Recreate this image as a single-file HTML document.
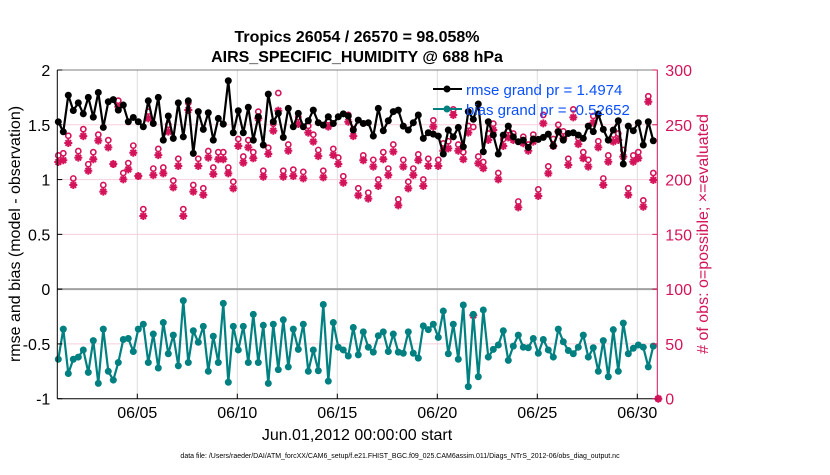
<!DOCTYPE html>
<html><head><meta charset="utf-8"><style>
body{margin:0;background:#fff;}
svg text{font-family:"Liberation Sans",sans-serif;}
</style></head><body>
<svg id="chart" width="830" height="470" viewBox="0 0 830 470" xmlns="http://www.w3.org/2000/svg">
<rect width="830" height="470" fill="#fff"/>
<g id="grid"></g>
<g id="series"></g>
<g id="axes"></g>
<text x="357" y="42" font-size="16" font-weight="bold" text-anchor="middle">Tropics 26054 / 26570 = 98.058%</text>
<text x="357" y="62" font-size="16" font-weight="bold" text-anchor="middle">AIRS_SPECIFIC_HUMIDITY @ 688 hPa</text>
<text transform="translate(20,234) rotate(-90)" font-size="16" text-anchor="middle">rmse and bias (model - observation)</text>
<text transform="translate(708,234) rotate(-90)" font-size="16" fill="#d4145a" text-anchor="middle"># of obs: o=possible; ×=evaluated</text>
<text x="357" y="440" font-size="16" text-anchor="middle">Jun.01,2012 00:00:00 start</text>
<text x="400" y="458" font-size="7" text-anchor="middle">data file: /Users/raeder/DAI/ATM_forcXX/CAM6_setup/f.e21.FHIST_BGC.f09_025.CAM6assim.011/Diags_NTrS_2012-06/obs_diag_output.nc</text>
<g id="legend">
<line x1="433" y1="89" x2="462" y2="89" stroke="#000" stroke-width="2"/>
<circle cx="447" cy="89" r="3.5" fill="#000"/>
<text x="466" y="95" font-size="15" fill="#0a50ff">rmse grand pr = 1.4974</text>
<line x1="433" y1="109" x2="462" y2="109" stroke="#008080" stroke-width="2"/>
<circle cx="447" cy="109" r="3.5" fill="#008080"/>
<text x="466" y="115" font-size="15" fill="#0a50ff">bias grand pr = -0.52652</text>
</g>
</svg>
<script>
const rmse=[1.527,1.436,1.77,1.63,1.70,1.60,1.75,1.57,1.795,1.476,1.71,1.73,1.634,1.68,1.528,1.567,1.528,1.482,1.719,1.512,1.75,1.36,1.58,1.376,1.70,1.39,1.719,1.239,1.62,1.458,1.61,1.36,1.558,1.506,1.902,1.427,1.628,1.427,1.66,1.36,1.573,1.315,1.78,1.528,1.604,1.385,1.65,1.482,1.604,1.482,1.537,1.634,1.519,1.497,1.573,1.512,1.573,1.60,1.58,1.452,1.543,1.512,1.519,1.397,1.65,1.446,1.537,1.62,1.634,1.488,1.452,1.519,1.589,1.376,1.427,1.415,1.397,1.233,1.452,1.39,1.476,1.30,1.62,1.55,1.69,1.254,1.528,1.406,1.233,1.406,1.488,1.39,1.345,1.36,1.294,1.37,1.367,1.385,1.415,1.306,1.437,1.36,1.421,1.427,1.406,1.376,1.488,1.437,1.598,1.458,1.36,1.452,1.537,1.142,1.488,1.446,1.519,1.315,1.528,1.354,null];
const bias=[-0.64,-0.365,-0.77,-0.64,-0.62,-0.555,-0.76,-0.47,-0.86,-0.365,-0.75,-0.83,-0.67,-0.46,-0.45,-0.57,-0.365,-0.32,-0.67,-0.41,-0.72,-0.305,-0.59,-0.42,-0.70,-0.105,-0.67,-0.38,-0.485,-0.34,-0.75,-0.43,-0.67,-0.13,-0.85,-0.34,-0.555,-0.34,-0.67,-0.23,-0.67,-0.33,-0.86,-0.32,-0.735,-0.28,-0.71,-0.365,-0.55,-0.32,-0.75,-0.555,-0.745,-0.14,-0.84,-0.305,-0.53,-0.555,-0.61,-0.35,-0.60,-0.39,-0.53,-0.575,-0.425,-0.39,-0.57,-0.41,-0.575,-0.585,-0.39,-0.585,-0.63,-0.335,-0.37,-0.32,-0.44,-0.20,-0.59,-0.32,-0.64,-0.145,-0.89,-0.23,-0.80,-0.19,-0.62,-0.55,-0.51,-0.38,-0.65,-0.52,-0.42,-0.53,-0.535,-0.45,-0.585,-0.46,-0.555,-0.62,-0.365,-0.48,-0.56,-0.59,-0.53,-0.42,-0.62,-0.535,-0.75,-0.47,-0.80,-0.37,-0.75,-0.31,-0.59,-0.54,-0.51,-0.53,-0.71,-0.52,null];
const evaluated=[216,217.6,233.4,195,220,239.7,208.1,218.5,235.5,189,229.4,214.2,266.5,200.2,209.3,224.5,203.2,166.7,255.9,204.1,222.3,205.7,243.7,192.9,212.4,166.7,263.5,189,212.4,186,220,205,218.5,218.5,205.7,192,230.6,215.4,229.4,219.4,255.9,202.6,223.3,244.6,262.9,202.6,226.3,203.2,250.7,201.1,242.8,234.6,221.4,202,248.3,222.3,214.2,197.1,252.8,239.7,185.6,217.6,182.6,211.8,194.1,218.5,204.1,225.5,176.5,211.8,192,204.1,217.6,194.1,212.4,248.3,212.4,226.3,228.5,258.9,226.3,218.5,242.8,76,214.8,210.3,236.1,245.2,200.2,230.6,238.5,236.1,174.6,233.1,226.3,234.6,185,251.3,205.7,230.6,243.7,237.6,213.3,256.8,232.4,219.4,211.8,251.9,229.4,195,216.3,234.6,236.1,220.9,186,216.3,219.4,175.2,271,199.6,0];
const possible=[222,224,240,201,226,246,214,225,241,195,236,214,272,206,215,231,203,173,262,210,228,211,250,199,219,173,270,195,219,192,226,211,225,225,211,198,237,221,236,225,262,208,229,251,279,208,232,209,257,207,249,241,227,208,254,228,220,203,259,246,192,222,188,218,200,225,210,232,182,218,198,210,223,200,219,254,218,233,235,264,232,225,249,248,221,216,242,251,206,237,245,242,180,239,232,241,191,259,212,237,250,244,219,264,238,225,218,258,235,201,222,241,242,227,192,222,225,181,276,206,0];
const nCats=121;
const leftTicks=[-1,-0.5,0,0.5,1,1.5,2];
const leftTickLabels=["-1","-0.5","0","0.5","1","1.5","2"];
const rightTicks=[0,50,100,150,200,250,300];
const xTickDays=[4,9,14,19,24,29];
const xTickLabels=["06/05","06/10","06/15","06/20","06/25","06/30"];

const X0=57.3,X1=657.3,Y0=398.7,Y1=70;
const xs=d=>X0+(d/30)*(X1-X0);
const xi=i=>xs(i*0.25)+1;
const yl=v=>Y0-(v+1)/3*(Y0-Y1);
const yr=c=>Y0-c/300*(Y0-Y1);
const NS="http://www.w3.org/2000/svg";
function mk(tag,attrs,parent){const e=document.createElementNS(NS,tag);for(const k in attrs)e.setAttribute(k,attrs[k]);parent.appendChild(e);return e;}
const grid=document.getElementById('grid'),ser=document.getElementById('series'),ax=document.getElementById('axes');
const CR="#d4145a",TE="#008080";
xTickDays.forEach((d,k)=>{const l=mk('line',{x1:xs(d),x2:xs(d),y1:Y1,y2:Y0,stroke:'#dcdcdc','stroke-width':1},grid);
});
rightTicks.forEach(c=>{if(c===0||c===300||c===100)return;const l=mk('line',{x1:X0,x2:X1,y1:yr(c),y2:yr(c),stroke:'#f6cfdc','stroke-width':1},grid);
});
const zl=mk('line',{x1:X0,x2:X1,y1:yl(0),y2:yl(0),stroke:'#a0a0a0','stroke-width':2},grid);

function star(cx,cy,g){const s=4;mk('path',{d:`M${cx-s} ${cy}H${cx+s}M${cx} ${cy-s}V${cy+s}M${cx-s*0.7} ${cy-s*0.7}L${cx+s*0.7} ${cy+s*0.7}M${cx-s*0.7} ${cy+s*0.7}L${cx+s*0.7} ${cy-s*0.7}`,stroke:CR,'stroke-width':2},g);}
for(let i=0;i<nCats;i++){
 const c=mk('circle',{cx:xi(i),cy:yr(possible[i]),r:2.6,fill:'none',stroke:CR,'stroke-width':1.6},ser);
 
 const g=mk('g',{},ser);
 
 star(xi(i),yr(evaluated[i]),g);
}
function line(arr,col,name){
 let d='';arr.forEach((v,i)=>{if(v===null)return;d+=(d?'L':'M')+xi(i).toFixed(1)+' '+yl(v).toFixed(1);});
 const p=mk('path',{d:d,fill:'none',stroke:col,'stroke-width':2.2,'stroke-linejoin':'round'},ser);
 
 arr.forEach((v,i)=>{if(v===null)return;const c=mk('circle',{cx:xi(i),cy:yl(v),r:3.5,fill:col},ser);
 });
}
line(rmse,'#000','rmse');
line(bias,TE,'bias');
mk('line',{x1:X0,x2:X0,y1:Y1,y2:Y0,stroke:'#000','stroke-width':1},ax);
mk('line',{x1:X0,x2:X1,y1:Y0,y2:Y0,stroke:'#000','stroke-width':1},ax);
mk('line',{x1:X0,x2:X1,y1:Y1,y2:Y1,stroke:'#000','stroke-width':0.6},ax);
mk('line',{x1:X1,x2:X1,y1:Y1,y2:Y0,stroke:CR,'stroke-width':1},ax);
leftTicks.forEach((v,k)=>{mk('line',{x1:X0,x2:X0+5,y1:yl(v),y2:yl(v),stroke:'#000'},ax);
 const t=mk('text',{x:X0-7,y:yl(v)+6,'font-size':16,'text-anchor':'end'},ax);t.textContent=leftTickLabels[k];
 });
rightTicks.forEach(c=>{mk('line',{x1:X1-5,x2:X1,y1:yr(c),y2:yr(c),stroke:CR},ax);
 const t=mk('text',{x:X1+8,y:yr(c)+6,'font-size':16,fill:CR},ax);t.textContent=String(c);
 });
xTickDays.forEach((d,k)=>{mk('line',{x1:xs(d),x2:xs(d),y1:Y0-5,y2:Y0,stroke:'#000'},ax);
 const t=mk('text',{x:xs(d),y:418,'font-size':16,'text-anchor':'middle'},ax);t.textContent=xTickLabels[k];
 });
</script>
</body></html>
